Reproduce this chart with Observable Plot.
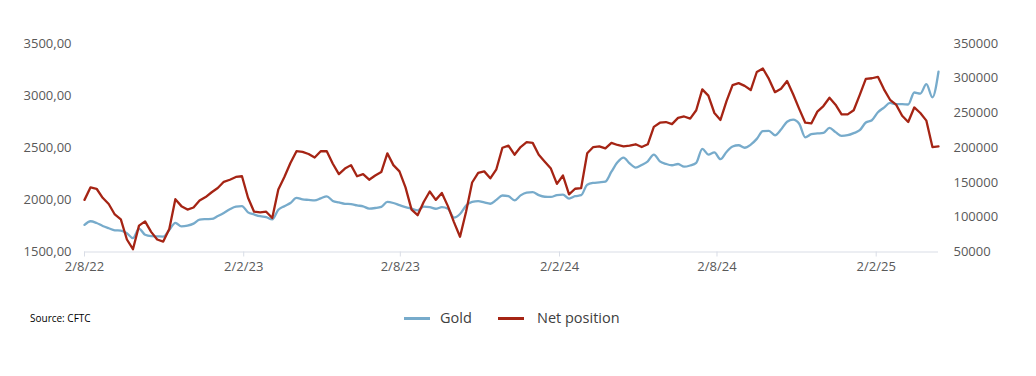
<!DOCTYPE html>
<html><head><meta charset="utf-8">
<script src="https://cdn.jsdelivr.net/npm/d3@7"></script>
<script src="https://cdn.jsdelivr.net/npm/@observablehq/plot@0.6"></script>
<style>
body{margin:0;background:#fff;font-family:"Open Sans",sans-serif}
#wrap{position:relative;width:1036px;height:376px;overflow:hidden}
.sw{position:absolute;height:3px;top:317px;width:26px}
.lt{position:absolute;top:308px;font-size:14.5px;color:#404040;line-height:20px}
#src{position:absolute;left:30px;top:311px;font-size:10px;color:#000;line-height:14px}
</style></head><body>
<div id="wrap"><div id="chart"></div>
<div class="sw" style="left:404px;background:#77abcb"></div><div class="lt" style="left:440px">Gold</div>
<div class="sw" style="left:498px;background:#a52414"></div><div class="lt" style="left:537px">Net position</div>
<div id="src">Source: CFTC</div>
</div>
<script>
const startDate = "2022-08-02";
const xTickDates = ["2022-08-02","2023-02-02","2023-08-02","2024-02-02","2024-08-02","2025-02-02"];
const goldTicks = [1500,2000,2500,3000,3500];
const netTicks = [50000,100000,150000,200000,250000,300000,350000];
const gold = [1760,1795,1778,1750,1728,1708,1705,1680,1633,1725,1665,1652,1650,1648,1712,1780,1745,1752,1772,1810,
1815,1817,1845,1875,1910,1935,1940,1880,1860,1843,1835,1813,1905,1940,1970,2020,2005,2000,1995,2015,
2034,1990,1975,1962,1960,1947,1938,1917,1922,1933,1980,1970,1950,1930,1915,1900,1935,1930,1915,1930,
1915,1830,1865,1945,1980,1988,1975,1963,2000,2042,2035,1995,2043,2070,2075,2045,2030,2028,2045,2050,
2012,2035,2045,2145,2163,2168,2175,2270,2360,2405,2350,2310,2335,2370,2435,2370,2345,2332,2344,2318,
2330,2355,2490,2435,2455,2390,2460,2512,2524,2500,2530,2585,2660,2662,2620,2675,2750,2770,2730,2600,
2630,2637,2643,2690,2650,2614,2620,2640,2668,2742,2764,2840,2885,2930,2918,2918,2915,3030,3020,3110,
2983,3229];
const netPosition = [125000,143000,141000,128000,119000,104000,97000,68000,54000,88000,94000,79000,68000,65000,83000,126000,116000,111000,114000,124000,
129000,136000,142000,151000,154000,158000,159000,128000,108000,107000,108000,99000,140000,158000,178000,195000,194000,191000,186000,195000,
195000,177000,162000,170000,175000,159000,162000,154000,160000,165000,192000,175000,166000,143000,111000,103000,122000,137000,125000,135000,
116000,93000,72000,108000,150000,164000,166000,156000,169000,200000,203000,190000,201000,208000,207000,190000,180000,170000,148000,160000,
133000,141000,142000,192000,201000,202000,199000,207000,204000,202000,203000,205000,201000,205000,230000,236000,237000,234000,243000,245000,
242000,254000,284000,275000,250000,240000,267000,290000,293000,289000,283000,309000,314000,299000,280000,285000,296000,277000,256000,236000,
235000,252000,260000,272000,262000,248000,248000,254000,276000,299000,300000,302000,284000,269000,262000,246000,237000,258000,250000,239000,
201000,202000];

const toY = v => 1500 + (v - 50000) / 300000 * 2000;
const fromY = y => Math.round(50000 + (y - 1500) / 2000 * 300000);
const t0 = new Date(startDate + "T00:00:00Z");
const rows = gold.map((g, i) => ({date: d3.utcDay.offset(t0, 7 * i), gold: g, net: toY(netPosition[i])}));
const fmtDate = d => `${d.getUTCDate()}/${d.getUTCMonth() + 1}/${String(d.getUTCFullYear()).slice(2)}`;

const chart = Plot.plot({
  width: 1036, height: 280,
  marginLeft: 84, marginRight: 98, marginTop: 43, marginBottom: 28.5,
  x: {type: "utc", domain: [rows[0].date, rows[rows.length - 1].date]},
  y: {domain: [1500, 3500]},
  style: {fontFamily: "'Open Sans', sans-serif", fontSize: "13px", color: "#595959", background: "transparent"},
  marks: [
    Plot.axisY({ticks: goldTicks, tickFormat: d => d.toFixed(2).replace(".", ","), tickSize: 0, tickPadding: 13, anchor: "left", label: null, fill: "#595959"}),
    Plot.axisY({ticks: netTicks.map(toY), tickFormat: d => String(fromY(d)), tickSize: 0, tickPadding: 15, anchor: "right", label: null, fill: "#595959"}),
    Plot.ruleY([1500], {stroke: "#d9dde6", strokeWidth: 1}),
    Plot.axisX({ticks: xTickDates.map(d => new Date(d + "T00:00:00Z")), tickFormat: fmtDate, tickSize: 5, tickPadding: 5, stroke: "#d9dde6", fill: "#595959", label: null}),
    Plot.lineY(rows, {x: "date", y: "gold", stroke: "#77abcb", strokeWidth: 2.3, curve: "monotone-x"}),
    Plot.lineY(rows, {x: "date", y: "net", stroke: "#a52414", strokeWidth: 2.3})
  ]
});
document.getElementById("chart").appendChild(chart);
</script>
</body></html>
